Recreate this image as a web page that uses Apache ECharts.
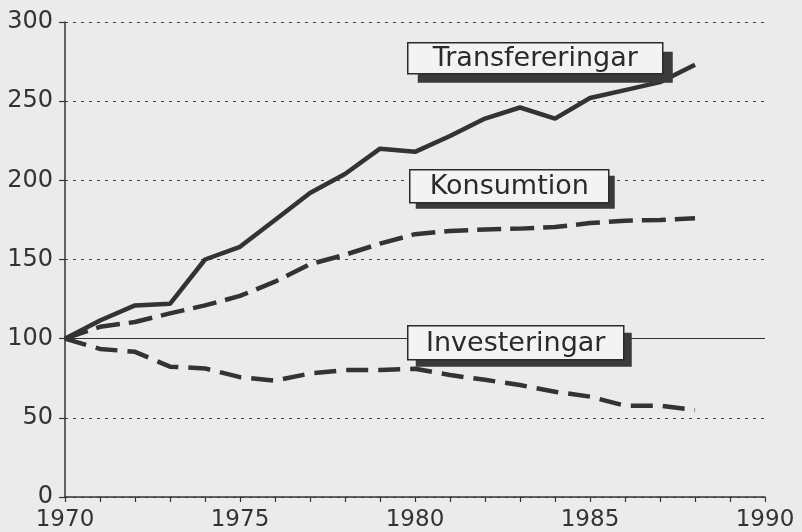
<!DOCTYPE html>
<html>
<head>
<meta charset="UTF-8">
<title>Transfereringar, konsumtion, investeringar</title>
<script src="https://cdn.jsdelivr.net/npm/echarts@6/dist/echarts.min.js"></script>
<style>
  html, body { margin: 0; padding: 0; background: #ebebeb; }
  #chart { width: 802px; height: 532px; }
</style>
</head>
<body>
<div id="chart"></div>
<script>
    // index 1970 = 100
    var years = [1970, 1971, 1972, 1973, 1974, 1975, 1976, 1977, 1978, 1979,
                 1980, 1981, 1982, 1983, 1984, 1985, 1986, 1987, 1988];
    var transfereringar = [100, 111.5, 121, 122, 150, 158, 175, 192, 204, 220,
                           218, 228, 239, 246, 239, 252, 257, 262, 273];
    var konsumtion = [100, 107.5, 110.5, 116, 121, 127, 136, 147, 153, 160,
                      166, 168, 169, 169.5, 170.5, 173, 174.5, 175, 176];
    var investeringar = [100, 93.5, 91.7, 82.3, 81.2, 75.7, 73.5, 78, 80.2, 80.2,
                         81, 77, 74, 70.7, 66.5, 63.4, 57.7, 57.7, 55];
    var yTicks = [0, 50, 100, 150, 200, 250, 300];

    function pairs(vals) {
        return years.map(function (y, i) { return [y, vals[i]]; });
    }

    var ink = '#333';
    var font = 'DejaVu Sans';

    // label boxes with drop shadow
    function tag(text, x, y, w, h, dx, dy) {
        return {
            type: 'group',
            left: x, top: y,
            children: [
                { type: 'rect', z: 100, shape: { x: dx, y: dy, width: w, height: h },
                  style: { fill: '#3a3a3a' } },
                { type: 'rect', z: 101, shape: { x: 0, y: 0, width: w, height: h },
                  style: { fill: '#f3f3f3', stroke: '#2a2a2a', lineWidth: 1.5 } },
                { type: 'text', z: 102, x: w / 2, y: h / 2 + 1,
                  style: { text: text, fill: '#2a2a2a', font: '27px "' + font + '"',
                           align: 'center', verticalAlign: 'middle' } }
            ]
        };
    }

    var chart = echarts.init(document.getElementById('chart'));

    var option = {
        backgroundColor: '#ebebeb',
        animation: false,
        grid: { left: 65, right: 37, top: 22, bottom: 33 },
        xAxis: {
            type: 'value',
            min: 1970, max: 1990, interval: 1,
            axisLine: { lineStyle: { color: ink, width: 1.5 } },
            axisTick: { show: true, length: 5, lineStyle: { color: ink, width: 1.2 } },
            axisLabel: {
                color: '#333', fontSize: 23, fontFamily: font, margin: 12,
                formatter: function (v) { return v % 5 === 0 ? String(v) : ''; }
            },
            splitLine: { show: false }
        },
        yAxis: {
            type: 'value',
            min: yTicks[0], max: yTicks[yTicks.length - 1], interval: 50,
            axisLine: { show: true, lineStyle: { color: ink, width: 1.5 } },
            axisTick: { show: true, length: 6, lineStyle: { color: ink, width: 1.2 } },
            axisLabel: { color: '#333', fontSize: 24, fontFamily: font, margin: 12 },
            splitLine: { show: true, lineStyle: { color: '#444', width: 1, type: [3, 5] } }
        },
        series: [
            {
                name: 'Transfereringar', type: 'line', data: pairs(transfereringar),
                symbol: 'none', lineStyle: { color: ink, width: 4.5 },
                markLine: {
                    silent: true, symbol: 'none', label: { show: false },
                    lineStyle: { color: ink, width: 1.2, type: 'solid' },
                    data: [{ yAxis: 100 }]
                }
            },
            {
                name: 'Konsumtion', type: 'line', data: pairs(konsumtion),
                symbol: 'none', lineStyle: { color: ink, width: 4.5, type: [24, 9] }
            },
            {
                name: 'Investeringar', type: 'line', data: pairs(investeringar),
                symbol: 'none', lineStyle: { color: ink, width: 4.5, type: [22, 10] }
            }
        ],
        graphic: [
            tag('Transfereringar', 407, 42, 255, 31, 10, 9),
            tag('Konsumtion', 409, 169, 199, 33, 6, 6),
            tag('Investeringar', 407, 325, 216, 34, 8, 7)
        ]
    };
    chart.setOption(option);
</script>
</body>
</html>
